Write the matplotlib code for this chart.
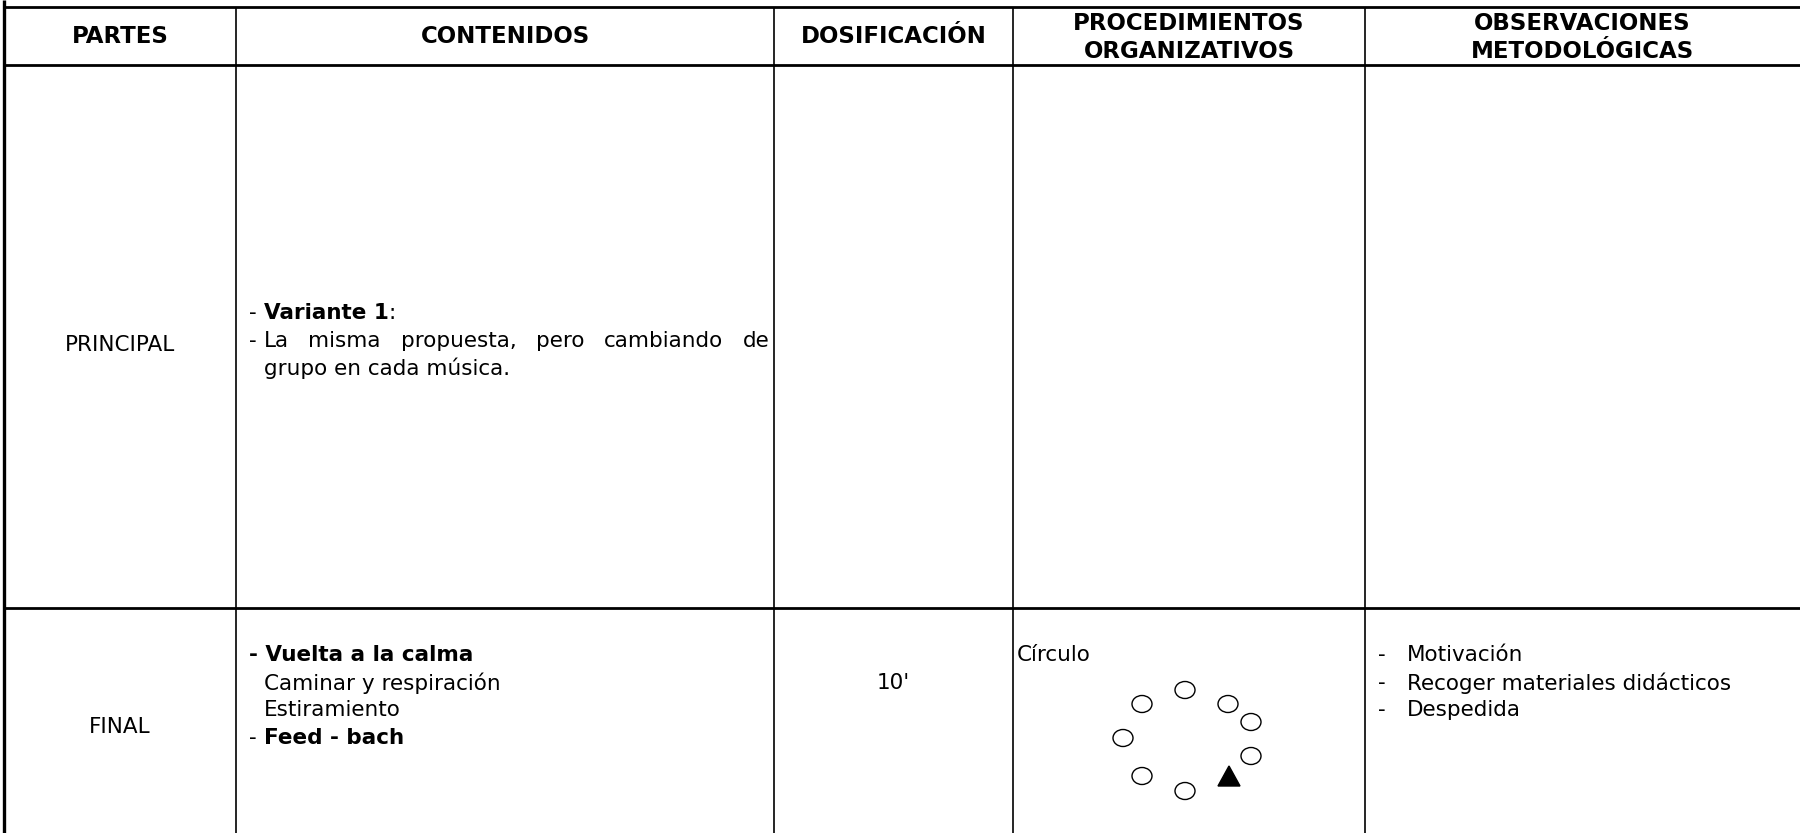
import matplotlib
matplotlib.use("Agg")
import matplotlib.pyplot as plt
from matplotlib.patches import Ellipse, Polygon

# el original usa una Arial ensanchada; DejaVu Sans se acerca más en anchura
plt.rcParams['font.family'] = ['DejaVu Sans']

W, H = 1800, 833

# bordes de columnas y filas (en píxeles)
col_x = [4, 236, 774, 1013, 1365, 1800]
row_y = [7, 65, 608, 833]

headers = [["PARTES"], ["CONTENIDOS"], ["DOSIFICACIÓN"],
           ["PROCEDIMIENTOS", "ORGANIZATIVOS"],
           ["OBSERVACIONES", "METODOLÓGICAS"]]
partes = ["PRINCIPAL", "FINAL"]
partes_y = [345, 727]
dosificacion = "10'"
observaciones = ["Motivación", "Recoger materiales didácticos", "Despedida"]
obs_y = [655, 683, 710]

# formación en círculo (alumnos) y profesor
alumnos_x = [1185, 1142, 1228, 1251, 1123, 1251, 1142, 1185]
alumnos_y = [690, 704, 704, 722, 738, 756, 776, 791]
profe_x, profe_y = 1229, 777

BODY = 15.5
HEAD = 16.5

fig = plt.figure(figsize=(18, 8.33), dpi=100)
ax = fig.add_axes([0, 0, 1, 1])
ax.set_xlim(0, W)
ax.set_ylim(H, 0)
ax.axis('off')
r = fig.canvas.get_renderer()


def width(s, weight='normal', size=BODY):
    t = ax.text(0, 0, s, fontsize=size, fontweight=weight)
    w = t.get_window_extent(renderer=r).width
    t.remove()
    return w


SP = width("x x") - width("xx")


def runs(x, y, parts, size=BODY):
    # línea con tramos en negrita y normal
    for s, wgt in parts:
        lead = len(s) - len(s.lstrip(' '))
        trail = len(s) - len(s.rstrip(' '))
        x += lead * SP
        s = s.strip(' ')
        if s:
            ax.text(x, y, s, fontsize=size, fontweight=wgt, va='center', ha='left')
            x += width(s, wgt, size)
        x += trail * SP
    return x


def justify(x0, x1, y, words, size=BODY):
    ws = [width(w, size=size) for w in words]
    gap = (x1 - x0 - sum(ws)) / (len(words) - 1)
    x = x0
    for w, wd in zip(words, ws):
        ax.text(x, y, w, fontsize=size, va='center', ha='left')
        x += wd + gap


# líneas de la tabla
ax.hlines(row_y[:3], col_x[0], W, color='black', lw=2.0)
ax.vlines(col_x[0], 0, H, color='black', lw=2.4)
ax.vlines(col_x[1:5], row_y[0], H, color='black', lw=1.2)

# cabecera
for i, lines in enumerate(headers):
    cx = (col_x[i] + col_x[i + 1]) / 2
    if len(lines) == 1:
        ax.text(cx, 36, lines[0], fontsize=HEAD, fontweight='bold', ha='center', va='center')
    else:
        ax.text(cx, 23, lines[0], fontsize=HEAD, fontweight='bold', ha='center', va='center')
        ax.text(cx, 51, lines[1], fontsize=HEAD, fontweight='bold', ha='center', va='center')

# partes
for p, y in zip(partes, partes_y):
    ax.text((col_x[0] + col_x[1]) / 2, y, p, fontsize=BODY, ha='center', va='center')

# contenidos - principal
x_txt = 249
runs(x_txt, 313, [("- ", 'normal'), ("Variante 1", 'bold'), (":", 'normal')])
ax.text(x_txt, 341, "-", fontsize=BODY, va='center', ha='left')
x_in = x_txt + width("-") + SP
justify(x_in, col_x[2] - 4, 341, "La misma propuesta, pero cambiando de".split())
ax.text(x_in, 368, "grupo en cada música.", fontsize=BODY, va='center', ha='left')

# contenidos - final
runs(x_txt, 655, [("- Vuelta a la calma", 'bold')])
ax.text(x_in, 683, "Caminar y respiración", fontsize=BODY, va='center', ha='left')
ax.text(x_in, 710, "Estiramiento", fontsize=BODY, va='center', ha='left')
runs(x_txt, 738, [("- ", 'normal'), ("Feed - bach", 'bold')])

# dosificación
ax.text((col_x[2] + col_x[3]) / 2, 683, dosificacion, fontsize=BODY, ha='center', va='center')

# procedimientos organizativos
ax.text(col_x[3] + 4, 655, "Círculo", fontsize=BODY, ha='left', va='center')
for x, y in zip(alumnos_x, alumnos_y):
    ax.add_patch(Ellipse((x, y), 20, 17, facecolor='white', edgecolor='black', lw=1.0))
ax.add_patch(Polygon([(profe_x - 11, profe_y + 9), (profe_x + 11, profe_y + 9),
                      (profe_x, profe_y - 11)], closed=True, color='black'))

# observaciones metodológicas
for t, y in zip(observaciones, obs_y):
    ax.text(col_x[4] + 13, y, "-", fontsize=BODY, ha='left', va='center')
    ax.text(col_x[4] + 42, y, t, fontsize=BODY, ha='left', va='center')

fig.savefig("out.png", dpi=100)
